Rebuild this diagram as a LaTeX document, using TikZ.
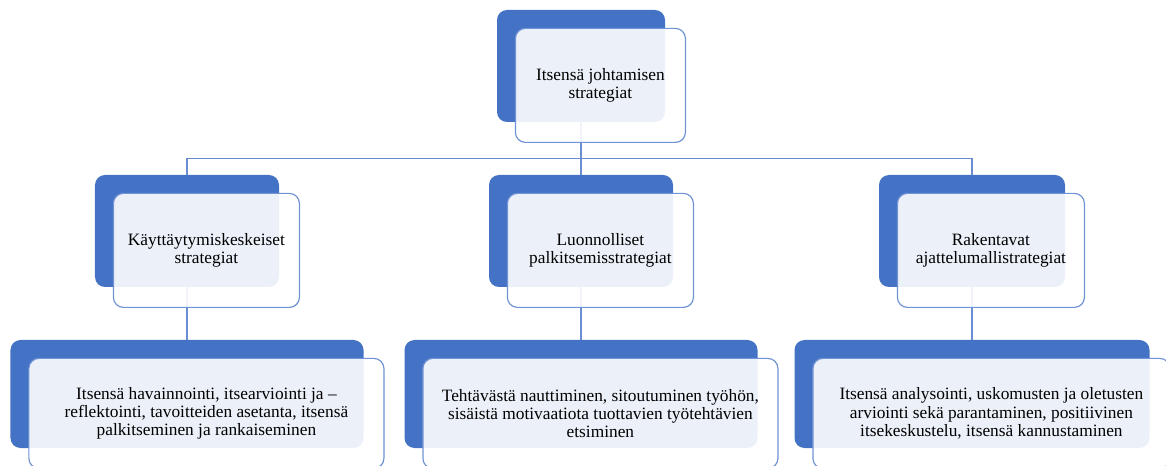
\documentclass[tikz,border=0pt]{standalone}
\usepackage{fontspec}
\setmainfont{Liberation Serif}
\usepackage{tikz}
\usetikzlibrary{positioning}
\definecolor{smblue}{HTML}{4472C4}
\definecolor{smline}{HTML}{6F93D4}
\tikzstyle{backbox}=[fill=smblue,rounded corners=10bp,inner sep=0pt]
\tikzstyle{frontbox}=[draw=smline,line width=1.2bp,fill=white,fill opacity=0.9,text opacity=1,
  rounded corners=10bp,align=center,inner sep=0pt,anchor=north west,
  font=\fontsize{17.4}{18.3}\selectfont]
\tikzstyle{conn}=[draw=smblue!80,line width=1.2bp]

\begin{document}
\begin{tikzpicture}[x=1bp,y=-1bp]
\useasboundingbox (0,0) rectangle (1166,466);
% back boxes
\node [backbox,minimum width=168bp,minimum height=112bp] (topb) at (581,66) {};
\node [backbox,minimum width=184bp,minimum height=112bp] (b1b) at (187,231) {};
\node [backbox,minimum width=184bp,minimum height=112bp] (b2b) at (581,231) {};
\node [backbox,minimum width=186bp,minimum height=112bp] (b3b) at (972,231) {};
\node [backbox,minimum width=353bp,minimum height=108bp] (c1b) at (187,394) {};
\node [backbox,minimum width=353bp,minimum height=108bp] (c2b) at (581,394) {};
\node [backbox,minimum width=355bp,minimum height=108bp] (c3b) at (972,394) {};
% connectors
\draw [conn] (topb.south) -- ++(0,36) -| (b1b.north);
\draw [conn] (topb.south) -- ++(0,36) -| (b2b.north);
\draw [conn] (topb.south) -- ++(0,36) -| (b3b.north);
\draw [conn] (b1b.south) -- (c1b.north);
\draw [conn] (b2b.south) -- (c2b.north);
\draw [conn] (b3b.south) -- (c3b.north);
% front boxes
\node [frontbox,minimum width=170bp,minimum height=114bp] (top) at ([shift={(18,18)}]topb.north west)
  {Itsensä johtamisen\\strategiat};
\node [frontbox,minimum width=186bp,minimum height=114bp] (b1) at ([shift={(18,18)}]b1b.north west)
  {Käyttäytymiskeskeiset\\strategiat};
\node [frontbox,minimum width=186bp,minimum height=114bp] (b2) at ([shift={(18,18)}]b2b.north west)
  {Luonnolliset\\palkitsemisstrategiat};
\node [frontbox,minimum width=187bp,minimum height=114bp] (b3) at ([shift={(18,18)}]b3b.north west)
  {Rakentavat\\ajattelumallistrategiat};
\node [frontbox,minimum width=355bp,minimum height=110bp] (c1) at ([shift={(18,18)}]c1b.north west)
  {Itsensä havainnointi, itsearviointi ja –\\reflektointi, tavoitteiden asetanta, itsensä\\palkitseminen ja rankaiseminen};
\node [frontbox,minimum width=355bp,minimum height=110bp] (c2) at ([shift={(18,18)}]c2b.north west)
  {Tehtävästä nauttiminen, sitoutuminen työhön,\\sisäistä motivaatiota tuottavien työtehtävien\\etsiminen};
\node [frontbox,minimum width=357bp,minimum height=110bp] (c3) at ([shift={(18,18)}]c3b.north west)
  {Itsensä analysointi, uskomusten ja oletusten\\arviointi sekä parantaminen, positiivinen\\itsekeskustelu, itsensä kannustaminen};
\end{tikzpicture}
\end{document}
